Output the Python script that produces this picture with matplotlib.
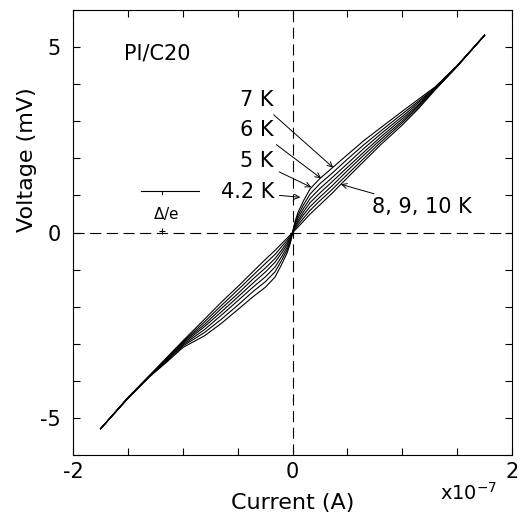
import numpy as np
import matplotlib
matplotlib.use("Agg")
from matplotlib import pyplot as plt
from matplotlib.ticker import MultipleLocator

plt.rcParams['font.family'] = ['DejaVu Sans']

# current in units of 1e-7 A, voltage in mV
current = [-1.75, -1.5, -1.3, -1.15, -1.0, -0.8, -0.65, -0.5, -0.36, -0.25, -0.16, -0.1, -0.05, -0.02,
           0, 0.02, 0.05, 0.1, 0.16, 0.25, 0.36, 0.5, 0.65, 0.8, 1.0, 1.15, 1.3, 1.5, 1.75]

v_4_2K = [-5.29, -4.47, -3.88, -3.50, -3.10, -2.78, -2.45, -2.08, -1.73, -1.48, -1.20, -0.86, -0.55, -0.28,
          0, 0.28, 0.55, 0.86, 1.18, 1.46, 1.74, 2.10, 2.48, 2.82, 3.27, 3.60, 3.93, 4.50, 5.32]
v_5K = [-5.29, -4.47, -3.87, -3.48, -3.06, -2.69, -2.34, -1.96, -1.59, -1.33, -1.06, -0.75, -0.47, -0.24,
        0, 0.24, 0.47, 0.75, 1.04, 1.32, 1.60, 1.98, 2.37, 2.73, 3.20, 3.55, 3.91, 4.50, 5.32]
v_6K = [-5.29, -4.46, -3.86, -3.45, -3.03, -2.61, -2.23, -1.84, -1.47, -1.20, -0.93, -0.65, -0.40, -0.20,
        0, 0.20, 0.40, 0.65, 0.92, 1.19, 1.48, 1.86, 2.27, 2.65, 3.13, 3.51, 3.90, 4.49, 5.32]
v_7K = [-5.29, -4.46, -3.86, -3.43, -3.00, -2.53, -2.14, -1.74, -1.36, -1.07, -0.80, -0.55, -0.33, -0.16,
        0, 0.16, 0.33, 0.56, 0.81, 1.07, 1.37, 1.76, 2.17, 2.57, 3.07, 3.46, 3.89, 4.49, 5.32]
v_8K = [-5.29, -4.45, -3.85, -3.42, -2.97, -2.47, -2.05, -1.65, -1.25, -0.96, -0.70, -0.47, -0.27, -0.13,
        0, 0.13, 0.27, 0.48, 0.70, 0.96, 1.26, 1.67, 2.09, 2.50, 3.01, 3.43, 3.87, 4.49, 5.32]
v_9K = [-5.29, -4.45, -3.85, -3.40, -2.95, -2.40, -1.97, -1.55, -1.15, -0.84, -0.59, -0.38, -0.21, -0.09,
        0, 0.09, 0.21, 0.39, 0.60, 0.86, 1.16, 1.57, 2.00, 2.43, 2.96, 3.39, 3.86, 4.48, 5.32]
v_10K = [-5.29, -4.45, -3.84, -3.38, -2.92, -2.33, -1.88, -1.46, -1.05, -0.73, -0.48, -0.30, -0.15, -0.06,
         0, 0.06, 0.15, 0.31, 0.50, 0.75, 1.06, 1.48, 1.92, 2.36, 2.90, 3.35, 3.85, 4.48, 5.32]

curves = [v_4_2K, v_5K, v_6K, v_7K, v_8K, v_9K, v_10K]

# labels: (text, text position, arrow tip)
labels = [("7 K", (-0.17, 3.57), (0.37, 1.75)),
          ("6 K", (-0.17, 2.76), (0.26, 1.46)),
          ("5 K", (-0.17, 1.92), (0.17, 1.22)),
          ("4.2 K", (-0.17, 1.08), (0.07, 0.95))]

fig = plt.figure(figsize=(5.23, 5.15), dpi=100)
ax = fig.add_axes([0.14, 0.1165, 0.839, 0.864])

for v in curves:
    ax.plot(current, v, color='black', lw=0.8)

ax.axhline(0, color='black', lw=0.8, ls=(0, (10, 5)))
ax.axvline(0, color='black', lw=0.8, ls=(0, (10, 5)))

arr = dict(arrowstyle='->', lw=0.7, color='black', shrinkA=2, shrinkB=0, mutation_scale=9)
for txt, pos, tip in labels:
    ax.annotate(txt, xy=tip, xytext=pos, ha='right', va='center', fontsize=15,
                arrowprops=arr)
ax.annotate("8, 9, 10 K", xy=(0.44, 1.3), xytext=(0.72, 0.68), ha='left', va='center',
            fontsize=15, arrowprops=arr)

ax.text(-1.54, 4.84, "PI/C20", fontsize=15, va='center', ha='left')

# gap marker
ax.plot([-1.38, -0.85], [1.13, 1.13], color='black', lw=0.8)
ax.plot([-1.19, -1.19], [1.13, 1.03], color='black', lw=0.8)
ax.plot([-1.19], [0.05], marker='+', color='black', ms=4, mew=0.8)
ax.text(-1.15, 0.5, r"$\Delta$/e", fontsize=11, ha='center', va='center')

ax.set_xlim(-2, 2)
ax.set_ylim(-6, 6)
ax.xaxis.set_minor_locator(MultipleLocator(0.5))
ax.yaxis.set_minor_locator(MultipleLocator(1))
ax.tick_params(which='both', direction='in', top=True, right=True, length=5,
               width=0.8, labelsize=15)
ax.tick_params(axis='x', pad=5)
ax.tick_params(axis='y', pad=9)
ax.set_xticks([-2, 0, 2])
ax.set_xticklabels(["-2", "0", "2"])
ax.set_yticks([-5, 0, 5])
ax.set_yticklabels(["-5", "0", "5"])
for s in ax.spines.values():
    s.set_linewidth(0.8)

ax.set_xlabel("Current (A)", fontsize=16)
ax.xaxis.set_label_coords(0.5, -0.085)
ax.set_ylabel("Voltage (mV)", fontsize=16)
ax.yaxis.set_label_coords(-0.082, 0.663)
fig.text(0.842, 0.03, r"x10$^{-7}$", fontsize=14)

fig.savefig("out.png", dpi=100)
